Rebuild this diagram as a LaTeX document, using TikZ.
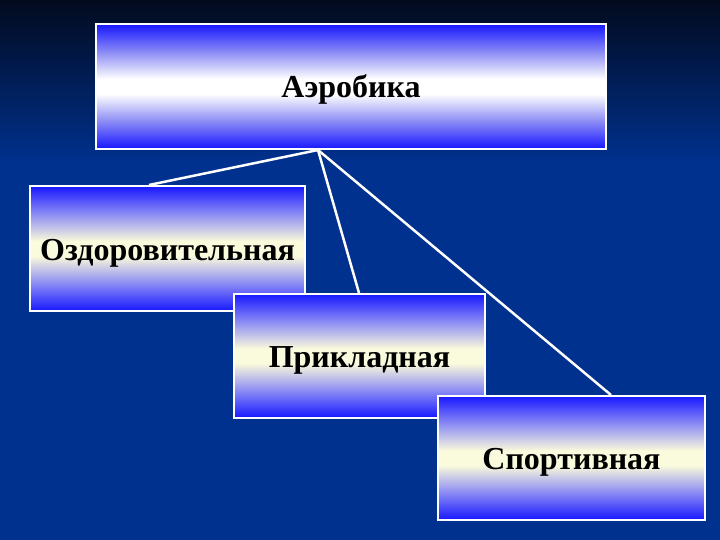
\documentclass[tikz,border=0pt]{standalone}
\usepackage{fontspec}
\setmainfont{Liberation Serif}
\definecolor{bgdark}{HTML}{020A1E}
\definecolor{bgnavy}{HTML}{00318E}
\definecolor{boxblue}{HTML}{1C1CFF}
\definecolor{boxmid}{HTML}{8A8AF5}
\definecolor{boxwhite}{HTML}{FFFFFF}
\definecolor{boxcream}{HTML}{FAFADC}
\pgfdeclareverticalshading{bgshade}{100bp}{color(0bp)=(bgnavy); color(25bp)=(bgnavy); color(60bp)=(bgnavy); color(75bp)=(bgdark); color(100bp)=(bgdark)}
\pgfdeclareverticalshading{topshade}{100bp}{color(0bp)=(boxblue); color(25.5bp)=(boxblue); color(36bp)=(boxmid); color(47bp)=(boxwhite); color(53bp)=(boxwhite); color(64bp)=(boxmid); color(74.5bp)=(boxblue); color(100bp)=(boxblue)}
\pgfdeclareverticalshading{subshade}{100bp}{color(0bp)=(boxblue); color(25.5bp)=(boxblue); color(36bp)=(boxmid); color(47bp)=(boxcream); color(53bp)=(boxcream); color(64bp)=(boxmid); color(74.5bp)=(boxblue); color(100bp)=(boxblue)}
\begin{document}
\begin{tikzpicture}[x=1pt,y=-1pt,
  boxbase/.style={draw=white,line width=2pt,rectangle,inner sep=0pt,
    text height=26pt,text depth=3pt,
    font=\fontsize{32}{38}\selectfont\bfseries,text=black},
  topbox/.style={boxbase,shading=topshade},
  subbox/.style={boxbase,shading=subshade},
  link/.style={draw=white,line width=2.5pt}]
\useasboundingbox (0,0) rectangle (720,540);
\shade[shading=bgshade] (0,0) rectangle (720,540);
\node[topbox,minimum width=510pt,minimum height=125pt] (top) at (351,86.5) {Аэробика};
\coordinate (hub) at ([xshift=-33pt]top.south);
\node[subbox,minimum width=275pt,minimum height=125pt] (ozd) at (167.5,248.5) {Оздоровительная};
\node[subbox,minimum width=251pt,minimum height=124pt] (pr) at (359.5,356) {Прикладная};
\node[subbox,minimum width=267pt,minimum height=124pt] (sp) at (571.5,458) {Спортивная};
\draw[link] (hub) -- ([xshift=120pt]ozd.north west);
\draw[link] (hub) -- ([xshift=126pt]pr.north west);
\draw[link] (hub) -- ([xshift=174pt]sp.north west);
\end{tikzpicture}
\end{document}
